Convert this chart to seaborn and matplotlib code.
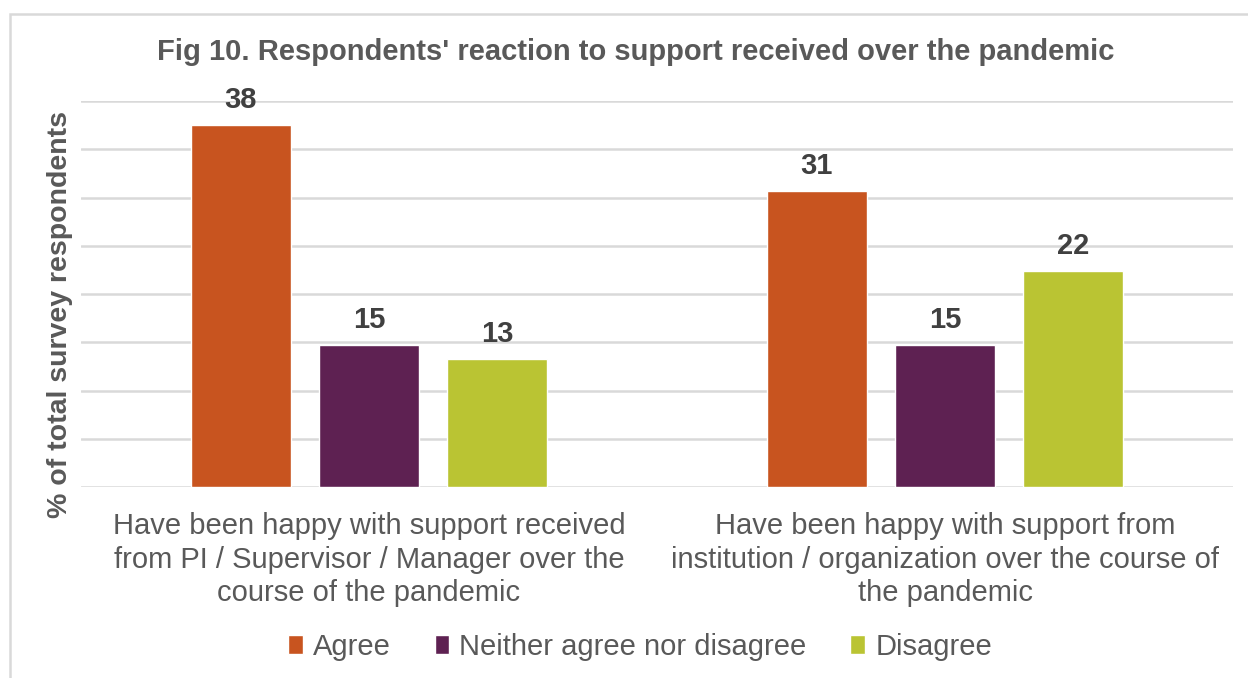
import pandas as pd
import numpy as np
import matplotlib.pyplot as plt
import seaborn as sns
from matplotlib.patches import Rectangle

# data (bar heights estimated, labels rounded)
questions = ["Have been happy with support received\nfrom PI / Supervisor / Manager over the\ncourse of the pandemic",
             "Have been happy with support from\ninstitution / organization over the course of\nthe pandemic"]
responses = ["Agree", "Neither agree nor disagree", "Disagree"]
agree = [37.5, 30.7]
neither = [14.7, 14.7]
disagree = [13.3, 22.4]
colors = ["#C8541F", "#5E2152", "#BAC433"]

df = pd.DataFrame({"question": questions * 3,
                   "response": np.repeat(responses, 2),
                   "value": agree + neither + disagree})

sns.set_theme(style="white")
plt.rcParams['font.family'] = ['Liberation Sans', 'DejaVu Sans']
txt = "#595959"

fig = plt.figure(figsize=(12.48, 6.78), dpi=100)
ax = fig.add_axes([81/1248, 1-487/678, (1233-81)/1248, (487-101)/678])

sns.barplot(data=df, x="question", y="value", hue="response", hue_order=responses,
            palette=colors, width=0.667, gap=0.22, saturation=1, ax=ax, legend=True)

ax.set_ylim(0, 40)
ax.set_xlim(-0.5, 1.5)
ax.set_yticks(np.arange(0, 41, 5))
ax.set_yticklabels([])
ax.tick_params(axis='y', length=0)
ax.tick_params(axis='x', length=0, labelsize=21, labelcolor=txt, pad=18)
ax.grid(axis='y', color="#D9D9D9", lw=1.8)
ax.set_axisbelow(True)
for s in ax.spines.values():
    s.set_visible(False)
ax.set_xlabel("")
ax.set_ylabel("% of total survey respondents", fontsize=20.5, fontweight='bold', color=txt)
ax.yaxis.set_label_coords(-0.007, 0.446)
for lbl in ax.get_xticklabels():
    lbl.set_multialignment('center')
    lbl.set_linespacing(1.25)

for c in ax.containers:
    ax.bar_label(c, fmt="%.0f", fontsize=21, fontweight='bold', color="#404040", padding=8)

fig.suptitle("Fig 10. Respondents' reaction to support received over the pandemic",
             x=636/1248, y=1-52/678, va='center', fontsize=21, fontweight='bold', color=txt)

ax.legend(loc='center', bbox_to_anchor=(640/1248, 1-647/678), bbox_transform=fig.transFigure,
          ncol=3, frameon=False, fontsize=21, labelcolor=txt, handlelength=0.5, handleheight=0.6,
          handletextpad=0.35, columnspacing=1.5)

fig.patches.append(Rectangle((10/1248, -0.1), 1.2, 1-14/678+0.1, transform=fig.transFigure,
                             fill=False, edgecolor="#D9D9D9", lw=1.8))

fig.savefig("out.png", dpi=100)
